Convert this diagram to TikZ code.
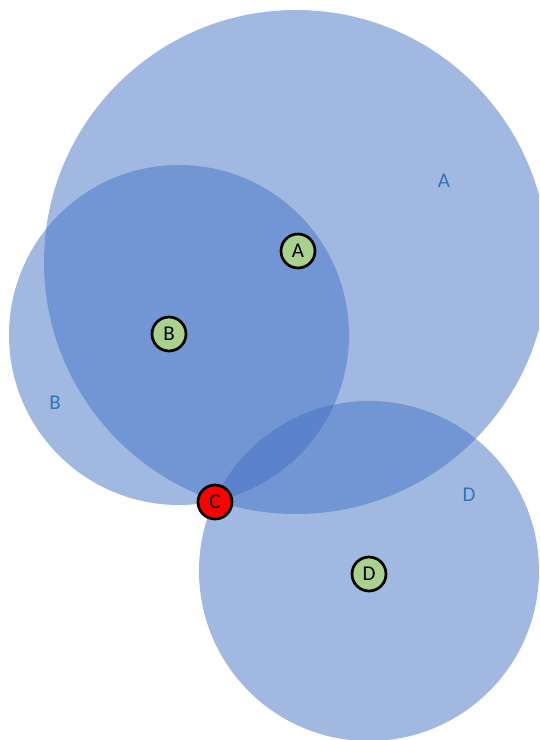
\documentclass[tikz,border=0pt]{standalone}
\usepackage{fontspec}
\setmainfont{Carlito}
\definecolor{zone}{HTML}{4472C4}
\definecolor{pt}{HTML}{A9D18E}
\definecolor{lbl}{HTML}{2E75B6}
\begin{document}
\begin{tikzpicture}[x=1pt,y=-1pt,
  zonecirc/.style={fill=zone,fill opacity=0.5,draw=none},
  ptnode/.style={circle,draw=black,line width=2.7pt,fill=pt,minimum size=34pt,inner sep=0pt,font=\fontsize{21}{24}\selectfont},
  zonelbl/.style={text=lbl,font=\fontsize{21}{24}\selectfont}]
\useasboundingbox (0,0) rectangle (539,740);
\clip (0,0) rectangle (539,740);
\fill[zonecirc] (296,262) circle (252);
\fill[zonecirc] (179,335) circle (170);
\fill[zonecirc] (369,571) circle (170);
\node[zonelbl] (la) at (444,181) {A};
\node[zonelbl] (lb) at (55,403) {B};
\node[zonelbl] (ld) at (469,495) {D};
\node[ptnode] (a) at (298,251) {A};
\node[ptnode] (b) at (169,334) {B};
\node[ptnode,fill=red] (c) at (215,502) {C};
\node[ptnode] (d) at (369,574) {D};
\end{tikzpicture}
\end{document}
